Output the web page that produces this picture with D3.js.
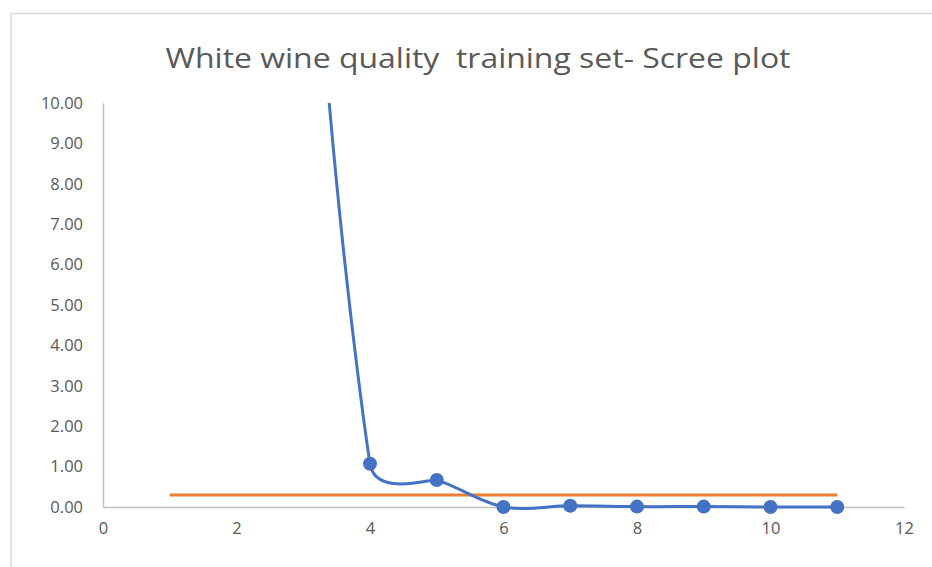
<!DOCTYPE html>
<html><head><meta charset="utf-8">
<script src="https://cdn.jsdelivr.net/npm/d3@7"></script>
<style>body{margin:0;background:#fff}svg{display:block}</style>
</head><body>
<svg id="c" width="932" height="567"></svg>
<script>
const title = "White wine quality  training set- Scree plot";
const components = [1,2,3,4,5,6,7,8,9,10,11];
const eigenvalues = [1905, 200, 22, 1.07, 0.67, 0.00, 0.03, 0.01, 0.01, 0.00, 0.00];
const cutoffX = [1, 11];
const cutoffValue = [0.30, 0.30];
const xTicks = [0,2,4,6,8,10,12];
const yTicks = [0,1,2,3,4,5,6,7,8,9,10];

const svg = d3.select("#c");
const W = 932, H = 567;
const m = {l:103, r:904, t:103, b:507};
const x = d3.scaleLinear().domain([0,12]).range([m.l, m.r]);
const y = d3.scaleLinear().domain([0,10]).range([m.b, m.t]);

svg.append("rect").attr("x",11).attr("y",13.5).attr("width",W).attr("height",H)
  .attr("fill","#fff").attr("stroke","#d9d9d9").attr("stroke-width",1.5);

svg.append("text").attr("x",478).attr("y",68).attr("text-anchor","middle")
  .attr("font-family","Open Sans, sans-serif").attr("font-size",27).attr("fill","#595959")
  .attr("textLength",625).attr("lengthAdjust","spacingAndGlyphs")
  .style("white-space","pre").text(title);

const defs = svg.append("defs");
defs.append("clipPath").attr("id","pa").append("rect")
  .attr("x",m.l).attr("y",m.t).attr("width",m.r-m.l).attr("height",m.b-m.t+20);

// axes
const xAxis = d3.axisBottom(x).tickValues(xTicks).tickSize(0).tickPadding(15).tickFormat(d3.format("d"));
const gx = svg.append("g").attr("transform",`translate(0,${m.b})`).call(xAxis);
gx.select(".domain").attr("stroke","#bfbfbf").attr("stroke-width",1.5);
gx.selectAll("text").attr("font-family","Open Sans, sans-serif").attr("font-size",16.5).attr("fill","#595959");

const yAxis = d3.axisLeft(y).tickValues(yTicks).tickSize(0).tickPadding(20).tickFormat(d3.format(".2f"));
const gy = svg.append("g").attr("transform",`translate(${m.l},0)`).call(yAxis);
gy.select(".domain").attr("stroke","#bfbfbf").attr("stroke-width",1.5);
gy.selectAll("text").attr("font-family","Open Sans, sans-serif").attr("font-size",16.5).attr("fill","#595959");

// cutoff line
const cut = cutoffX.map((d,i)=>[d,cutoffValue[i]]);
svg.append("path").datum(cut)
  .attr("d", d3.line().x(d=>x(d[0])).y(d=>y(d[1])))
  .attr("fill","none").attr("stroke","#ED7D31").attr("stroke-width",3);

// Excel-style smoothed line (Bezier with clamped 1/6 tangents)
function smoothPath(P){
  const p = d3.path();
  const dist = (a,b)=>Math.hypot(b[0]-a[0], b[1]-a[1]);
  p.moveTo(P[0][0], P[0][1]);
  for(let i=0;i<P.length-1;i++){
    const p0 = P[i-1]||P[i], p1 = P[i], p2 = P[i+1], p3 = P[i+2]||P[i+1];
    const d02 = dist(p0,p2), d12 = dist(p1,p2), d13 = dist(p1,p3);
    const b1 = d02/6 < d12/2, b2 = d13/6 < d12/2;
    let f1 = 1/6, f2 = 1/6;
    if(!b1 && !b2){ f1 = d12/(2*d02); f2 = d12/(2*d13); }
    else if(!b1){ f1 = f2 = d12/(2*d02); }
    else if(!b2){ f1 = f2 = d12/(2*d13); }
    const c1 = [p1[0]+(p2[0]-p0[0])*f1, p1[1]+(p2[1]-p0[1])*f1];
    const c2 = [p2[0]-(p3[0]-p1[0])*f2, p2[1]-(p3[1]-p1[1])*f2];
    p.bezierCurveTo(c1[0],c1[1],c2[0],c2[1],p2[0],p2[1]);
  }
  return p.toString();
}

const pts = components.map((c,i)=>[c,eigenvalues[i]]);
svg.append("path").attr("clip-path","url(#pa)")
  .attr("d", smoothPath(pts.map(d=>[x(d[0]), y(d[1])])))
  .attr("fill","none").attr("stroke","#4472C4").attr("stroke-width",3);

svg.append("g").selectAll("circle").data(pts.filter(d=>d[1]<=10)).join("circle")
  .attr("cx",d=>x(d[0])).attr("cy",d=>y(d[1])).attr("r",7).attr("fill","#4472C4");
</script>
</body></html>
